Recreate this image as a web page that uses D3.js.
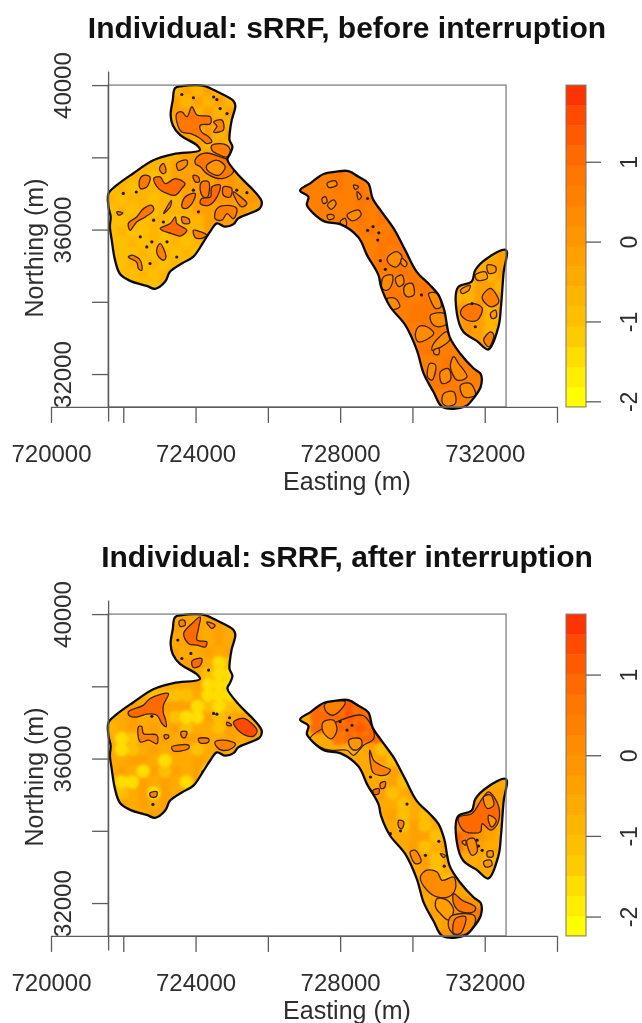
<!DOCTYPE html>
<html>
<head>
<meta charset="utf-8">
<script src="https://cdn.jsdelivr.net/npm/d3@7"></script>
<style>
html,body{margin:0;padding:0;background:#fff}
svg{display:block;filter:blur(0.55px)}
text{font-family:"Liberation Sans",Arial,sans-serif;fill:#2e2e2e}
</style>
</head>
<body>
<script>
// All map coordinates are kilometres (easting, northing).
const titles = ["Individual: sRRF, before interruption", "Individual: sRRF, after interruption"];
const xTicks = [720, 722, 724, 726, 728, 730, 732, 734];
const xTickLabels = ["720000", "", "724000", "", "728000", "", "732000", ""];
const yTicks = [40, 38, 36, 34, 32];
const yTickLabels = ["40000", "", "36000", "", "32000"];
const legendTicks = [-2, -1, 0, 1];
const legendDomains = [[-2.07, 1.96], [-2.24, 1.75]];
const palette = ["#ffff00","#ffee00","#ffdd00","#fccb00","#fdbf00","#ffb400","#ffaa00","#ffa000","#ff9500","#ff8c00","#ff8000","#ff7700","#ff6a00","#ff5a00","#ff4a00","#ff3300"];
// surface level codes used by the field rows below
const levelValues = [-2.0, -1.6, -1.2, -0.9, -0.6, -0.3, 0.0, 0.55, 0.9, 1.2];

const westOutline = [[723.43,39.91],[723.62,39.97],[724.03,40.00],[724.26,39.97],[724.59,39.82],[725.05,39.56],[725.10,39.42],[725.00,39.03],[724.95,38.71],[724.94,38.48],[725.02,38.29],[724.95,38.09],[724.88,37.94],[725.23,37.46],[725.60,37.09],[725.83,36.77],[725.78,36.59],[725.51,36.45],[725.18,36.31],[725.05,36.15],[724.82,36.08],[724.59,36.17],[724.40,35.94],[724.22,35.66],[723.94,35.25],[723.62,35.06],[723.29,34.83],[723.16,34.56],[722.88,34.36],[722.65,34.44],[722.19,34.58],[721.91,34.77],[721.77,35.16],[721.68,35.71],[721.63,36.08],[721.65,36.36],[721.59,36.63],[721.59,37.00],[721.82,37.23],[722.28,37.56],[722.83,37.92],[723.39,38.09],[724.12,38.20],[724.03,38.34],[723.57,38.62],[723.37,38.89],[723.31,39.17],[723.37,39.59]];
const centralOutline = [[726.89,37.08],[727.17,37.28],[727.54,37.54],[727.86,37.60],[728.23,37.62],[728.51,37.46],[728.78,37.28],[728.90,36.86],[729.15,36.49],[729.48,36.03],[729.80,35.43],[730.12,34.83],[730.49,34.46],[730.72,34.19],[730.88,33.77],[731.03,33.03],[731.32,32.57],[731.69,32.16],[731.89,32.00],[731.89,31.65],[731.69,31.33],[731.46,31.10],[730.84,31.08],[730.58,31.51],[730.31,32.02],[730.12,32.67],[729.80,33.36],[729.38,33.87],[729.13,34.42],[729.06,34.74],[728.74,35.30],[728.51,35.78],[728.00,36.15],[727.58,36.22],[727.26,36.45],[727.08,36.68],[727.12,36.91]];
const eastOutline = [[732.59,35.43],[732.52,34.79],[732.45,33.87],[732.38,33.31],[732.10,32.68],[731.78,32.92],[731.41,33.17],[731.23,33.68],[731.26,34.40],[731.64,34.56],[731.74,34.88],[732.06,35.20]];
const outlines = [westOutline, centralOutline, eastOutline];

// Estimated surface, 300 m cells: one row per 300 m of northing from 40 km, each row a list of [first column, level codes]
const fieldBefore = [
[[6,"454544"]],
[[6,"545454"]],
[[6,"554545"]],
[[6,"456554"]],
[[6,"554645"]],
[[6,"465454"]],
[[7,"55655"]],
[[4,"445556565"]],
[[2,"4434555566565"],[18,"77787777"]],
[[0,"343444455566555"],[19,"7787877"]],
[[0,"434434455566565"],[19,"7777887"]],
[[0,"343434445555656"],[21,"778787"]],
[[0,"334344344555555"],[22,"787878"]],
[[0,"343343444555554"],[24,"87878"]],
[[0,"334343434544"],[24,"78887"]],
[[1,"33434343444"],[25,"87878"],[35,"45"]],
[[1,"34343434"],[25,"888788"],[34,"455"]],
[[1,"3343434"],[26,"78878"],[34,"545"]],
[[3,"334"],[26,"878887"],[33,"4554"]],
[[26,"887878"],[32,"44545"]],
[[27,"78887"],[32,"55645"]],
[[28,"8878"],[32,"56544"]],
[[28,"7887"],[32,"56545"]],
[[29,"877"],[33,"554"]],
[[29,"8877"],[33,"554"]],
[[29,"77877"],[34,"55"]],
[[30,"888788"]],
[[30,"887777"]],
[[31,"78777"]],
[[31,"7777"]]
];
const fieldAfter = [
[[6,"454555"]],
[[6,"545454"]],
[[6,"455454"]],
[[6,"544545"]],
[[6,"455412"]],
[[6,"544211"]],
[[7,"45111"]],
[[4,"222241112"]],
[[2,"54455512122"],[18,"88899888"]],
[[0,"44544421152454"],[19,"8889888"]],
[[0,"345454524425545"],[19,"8988987"]],
[[0,"412545455445455"],[21,"788887"]],
[[0,"412454542454454"],[22,"445243"]],
[[0,"445541445455"],[24,"45245"]],
[[0,"454152545125"],[24,"42545"]],
[[1,"11545415"],[25,"45245"],[35,"44"]],
[[1,"2451545"],[25,"524525"],[34,"455"]],
[[1,"54545"],[26,"42452"],[34,"675"]],
[[3,"455"],[26,"52425"],[33,"6765"]],
[[26,"425245"],[32,"67664"]],
[[27,"45524"],[32,"87654"]],
[[28,"5245"],[32,"86544"]],
[[28,"4525"],[32,"44434"]],
[[29,"524"],[33,"444"]],
[[29,"4525"],[33,"434"]],
[[29,"52454"],[34,"44"]],
[[30,"556665"]],
[[30,"556676"]],
[[31,"57786"]],
[[31,"6777"]]
];

// Contour rings: [value, ring]
const contoursBefore = [
[0.9,[[723.48,39.21],[723.62,39.26],[723.76,39.12],[723.90,39.40],[724.04,39.17],[724.41,39.12],[724.41,38.93],[724.13,38.89],[724.17,38.70],[724.36,38.57],[724.45,38.43],[724.31,38.38],[724.13,38.52],[723.85,38.66],[723.62,38.70],[723.48,38.98]]],
[0.6,[[724.50,38.98],[724.73,39.03],[724.77,38.75],[724.50,38.70],[724.59,38.86]]],
[0.5,[[724.45,38.33],[724.68,38.38],[724.87,38.33],[724.96,38.20],[724.87,38.01],[724.59,38.10],[724.45,38.20]]],
[0.9,[[724.04,38.01],[724.31,38.12],[724.68,38.01],[724.91,37.92],[725.05,37.60],[724.73,37.41],[724.31,37.55],[724.13,37.74],[723.99,37.83]]],
[0.1,[[724.31,37.78],[724.59,37.92],[724.82,37.74],[724.64,37.50],[724.33,37.64]]],
[0.9,[[722.56,37.50],[722.74,37.46],[722.65,37.18],[722.47,37.14],[722.45,37.37]]],
[1.0,[[722.84,37.41],[723.02,37.46],[723.16,37.27],[723.44,37.41],[723.71,37.27],[723.62,37.14],[723.44,36.95],[723.21,37.00],[722.97,37.14]]],
[0.8,[[723.93,37.50],[724.08,37.46],[724.10,37.32],[723.99,37.32]]],
[0.8,[[724.17,37.32],[724.36,37.32],[724.33,36.90],[724.22,36.90],[724.13,37.09]]],
[1.0,[[724.45,37.18],[724.68,37.23],[724.59,36.90],[724.36,36.67],[724.13,36.72],[724.17,36.86],[724.41,36.90]]],
[0.9,[[724.77,37.18],[725.00,37.14],[724.96,36.90],[724.77,36.95]]],
[0.6,[[725.05,37.04],[725.19,36.95],[725.42,36.72],[725.28,36.63],[725.10,36.86]]],
[0.8,[[723.71,36.90],[723.99,37.00],[723.90,36.72],[723.71,36.58],[723.62,36.63]]],
[0.6,[[724.59,36.58],[724.87,36.67],[725.14,36.58],[725.05,36.30],[724.87,36.44],[724.73,36.26],[724.54,36.30]]],
[0.9,[[722.56,36.58],[722.79,36.67],[722.84,36.54],[722.61,36.35],[722.37,36.21],[722.19,35.98],[722.14,36.17],[722.37,36.35]]],
[1.0,[[723.02,36.03],[723.30,36.17],[723.44,36.35],[723.48,36.17],[723.76,35.98],[723.57,35.82],[723.34,35.89],[723.11,35.96]]],
[0.6,[[723.62,36.35],[723.81,36.30],[723.83,36.18],[723.65,36.18]]],
[0.6,[[723.16,36.54],[723.33,36.81],[723.30,36.63],[723.11,36.44]]],
[0.6,[[723.94,35.98],[724.13,35.94],[724.31,35.84],[724.13,35.75],[723.99,35.78]]],
[0.6,[[722.93,35.47],[723.02,35.61],[723.18,35.24],[723.11,35.15],[722.95,35.29]]],
[0.6,[[722.14,35.24],[722.24,35.29],[722.47,35.15],[722.51,34.87],[722.42,34.92],[722.37,35.10]]],
[0.6,[[723.00,37.69],[723.11,37.83],[723.18,37.60],[723.09,37.55]]],
[0.2,[[723.48,37.83],[723.76,37.92],[723.76,37.78],[723.53,37.64]]],
[0.6,[[721.82,36.49],[721.99,36.46],[721.87,36.40]]],
[0.35,[[727.64,37.28],[727.87,37.35],[727.91,37.23],[727.68,37.17]]],
[0.35,[[727.50,36.86],[727.59,36.91],[727.64,36.77],[727.54,36.72]]],
[0.35,[[727.65,36.68],[727.82,36.82],[727.89,36.72],[727.75,36.56]]],
[0.35,[[727.64,36.40],[727.82,36.40],[727.82,36.31],[727.68,36.28]]],
[0.35,[[728.00,36.22],[728.14,36.31],[728.17,36.12],[728.05,36.12]]],
[0.35,[[728.19,36.40],[728.51,36.54],[728.58,36.40],[728.33,36.24]]],
[0.35,[[728.47,37.05],[728.59,36.91],[728.51,36.83]]],
[0.35,[[728.37,37.23],[728.51,37.19],[728.42,37.11]]],
[0.35,[[729.34,35.27],[729.57,35.39],[729.71,35.25],[729.57,34.97],[729.39,35.02],[729.30,35.15]]],
[0.35,[[729.71,35.20],[729.85,35.06],[729.80,34.97],[729.68,35.06]]],
[0.35,[[729.20,34.69],[729.44,34.74],[729.44,34.51],[729.30,34.32],[729.16,34.37]]],
[0.35,[[729.53,34.65],[729.71,34.74],[729.76,34.51],[729.62,34.42]]],
[0.35,[[729.80,34.46],[729.99,34.51],[730.04,34.19],[729.85,34.14],[729.76,34.28]]],
[0.35,[[729.30,34.09],[729.53,34.09],[729.65,33.86],[729.44,33.79],[729.34,33.91]]],
[0.35,[[730.45,34.23],[730.68,34.23],[730.79,33.86],[730.64,33.82],[730.50,34.05]]],
[0.35,[[730.50,33.63],[730.87,33.68],[730.96,33.40],[730.68,33.31],[730.54,33.40]]],
[0.35,[[730.17,33.31],[730.40,33.31],[730.59,33.12],[730.17,32.89],[730.08,33.08]]],
[0.35,[[730.59,32.85],[730.96,33.17],[731.03,32.94],[730.54,32.66]]],
[0.35,[[730.59,32.66],[730.73,32.71],[730.73,32.55],[730.61,32.55]]],
[0.35,[[730.48,32.29],[730.64,32.25],[730.54,31.83],[730.42,31.92]]],
[0.35,[[730.77,32.06],[731.00,32.15],[731.05,31.83],[730.82,31.74]]],
[0.35,[[731.14,32.48],[731.28,32.29],[731.51,31.92],[731.24,31.83],[731.05,32.20]]],
[0.35,[[731.33,31.69],[731.60,31.74],[731.74,31.42],[731.42,31.37]]],
[0.35,[[730.87,31.46],[731.14,31.51],[731.19,31.19],[730.96,31.11],[730.82,31.23]]],
[0.1,[[732.07,35.02],[732.30,34.97],[732.30,34.83],[732.11,34.79]]],
[-0.2,[[731.74,34.74],[732.02,34.83],[732.07,34.65],[731.79,34.60]]],
[0.1,[[731.33,34.32],[731.60,34.46],[731.56,34.32],[731.37,34.23]]],
[0.8,[[731.42,33.86],[731.70,33.95],[731.93,33.82],[731.79,33.49],[731.51,33.49],[731.33,33.68]]],
[0.6,[[731.93,34.14],[732.16,34.37],[732.39,34.00],[732.20,33.86],[732.07,33.91]]],
[0.1,[[732.16,33.68],[732.30,33.77],[732.32,33.58],[732.20,33.54]]],
[0.6,[[731.97,32.94],[732.16,33.17],[732.25,33.08],[732.11,32.75]]]
];
const contoursAfter = [
[0.9,[[723.90,39.74],[724.13,39.92],[724.08,39.60],[724.04,39.28],[724.31,39.23],[724.27,39.09],[724.04,39.14],[723.81,39.18],[723.67,39.46]]],
[0.5,[[723.55,39.81],[723.69,39.83],[723.71,39.69],[723.57,39.66]]],
[0.8,[[723.90,38.70],[724.17,38.77],[724.13,38.58],[723.94,38.52]]],
[0.3,[[724.31,39.78],[724.54,39.69],[724.45,39.60]]],
[0.8,[[722.14,37.29],[722.56,37.48],[722.74,37.66],[723.25,37.80],[723.11,37.48],[723.11,37.25],[723.16,37.11],[723.19,36.88],[723.07,36.97],[722.93,37.20],[722.65,37.23],[722.37,37.15],[722.19,37.17]]],
[0.4,[[722.42,36.88],[722.51,36.89],[722.56,36.69],[722.93,36.65],[722.93,36.41],[722.70,36.51],[722.47,36.46]]],
[0.3,[[723.13,36.65],[723.25,36.65],[723.25,36.58],[723.16,36.55]]],
[0.4,[[723.60,36.74],[723.76,36.74],[723.71,36.58],[723.62,36.60]]],
[0.4,[[723.34,36.32],[723.81,36.37],[723.81,36.28],[723.39,36.21]]],
[0.4,[[724.08,36.55],[724.36,36.55],[724.36,36.46],[724.13,36.43]]],
[0.4,[[724.54,36.46],[724.77,36.51],[725.10,36.41],[725.00,36.28],[724.73,36.23],[724.59,36.32]]],
[0.4,[[724.87,37.01],[725.00,36.92],[724.87,36.92]]],
[1.3,[[725.05,37.01],[725.33,37.11],[725.70,36.78],[725.61,36.62],[725.37,36.65],[725.10,36.88]]],
[0.3,[[722.74,35.05],[722.93,35.08],[722.91,34.94],[722.76,34.94]]],
[null,[[728.60,37.20],[728.88,36.88],[728.93,36.55],[728.65,36.37],[728.37,36.09],[728.19,36.23],[727.73,36.23],[727.45,36.32],[727.17,36.55]]],
[0.3,[[727.59,37.52],[728.14,37.57],[727.96,37.29],[727.77,37.20],[727.59,37.34]]],
[0.2,[[727.54,37.02],[727.82,37.06],[727.91,36.79],[727.77,36.55],[727.59,36.65],[727.50,36.83]]],
[0.0,[[728.24,36.51],[728.56,36.55],[728.60,36.37],[728.42,36.23],[728.28,36.32]]],
[0.3,[[728.82,36.23],[728.93,35.95],[729.11,35.82],[729.39,35.68],[729.25,35.54],[728.93,35.59],[728.84,35.86]]],
[0.9,[[728.91,35.12],[729.07,35.17],[729.07,35.03],[728.93,35.01]]],
[0.3,[[729.11,35.31],[729.25,35.36],[729.23,35.20],[729.13,35.17]]],
[0.3,[[729.62,34.29],[729.76,34.25],[729.71,34.06],[729.62,34.11]]],
[0.2,[[729.94,33.42],[730.08,33.46],[730.24,33.14],[730.08,33.09]]],
[0.2,[[730.77,33.37],[730.91,33.32],[730.87,33.26]]],
[0.2,[[730.22,32.72],[730.40,32.91],[730.68,32.86],[730.82,32.63],[731.14,32.72],[731.19,32.40],[731.00,32.17],[730.68,32.17],[730.40,32.36]]],
[-0.3,[[730.68,32.12],[730.96,32.08],[731.14,31.80],[731.00,31.53],[730.77,31.71],[730.64,31.89]]],
[0.7,[[731.14,32.26],[731.37,32.08],[731.74,31.89],[731.70,31.76],[731.33,31.76],[731.14,31.99]]],
[0.2,[[731.05,31.62],[731.42,31.71],[731.70,31.66],[731.74,31.48],[731.51,31.16],[731.19,31.11],[731.00,31.34]]],
[0.7,[[731.19,31.57],[731.47,31.62],[731.33,31.16],[731.14,31.16]]],
[0.9,[[731.28,34.37],[731.65,34.48],[731.93,34.89],[732.11,35.08],[732.39,34.66],[732.36,34.20],[732.16,34.02],[731.93,34.20],[731.88,33.97],[731.47,33.97],[731.33,34.11]]],
[0.0,[[732.11,34.43],[732.32,34.29],[732.20,34.11],[732.11,34.25]]],
[0.0,[[731.97,34.94],[732.16,34.99],[732.25,34.71],[732.07,34.62]]],
[0.2,[[731.51,33.74],[731.70,33.79],[731.79,33.42],[731.65,33.32]]],
[0.0,[[732.07,33.42],[732.22,33.44],[732.22,33.28],[732.08,33.28]]],
[0.0,[[731.97,33.14],[732.16,33.19],[732.20,33.05],[732.02,33.00]]],
[0.0,[[731.37,33.69],[731.47,33.74],[731.47,33.60]]]
];
// Very small closed contours, shown as dots
const dotsBefore = [[722.00,37.00],[722.36,37.04],[723.62,39.74],[723.94,39.65],[724.50,39.67],[724.59,39.60],[723.11,36.21],[722.84,36.26],[722.47,35.80],[722.65,35.52],[722.79,35.66],[723.21,35.66],[723.48,35.24],[722.74,35.06],[724.08,36.49],[725.14,37.09],[725.42,37.02],[724.87,39.21],[724.68,39.35],[723.94,37.09],[728.76,35.98],[728.91,36.08],[729.07,35.91],[729.04,35.71],[728.76,36.86],[729.11,35.14],[729.25,34.90],[730.25,34.19],[731.74,33.31],[731.65,33.95]];
const dotsAfter = [[722.82,34.73],[723.51,39.28],[723.62,38.77],[723.87,38.91],[724.36,38.45],[724.50,37.25],[724.59,37.23],[724.94,37.13],[722.79,37.17],[724.20,35.63],[728.00,37.02],[728.33,36.92],[728.19,36.79],[728.84,35.49],[729.67,34.00],[729.85,34.74],[729.39,33.92],[729.07,34.62],[730.73,33.71],[730.36,33.32],[730.88,33.02],[731.79,33.74],[731.83,33.58],[731.93,33.46]];
const baseValues = [[-0.6, 0.55, -0.3], [-0.6, -0.5, -0.6]];

const fields = [fieldBefore, fieldAfter];
const contours = [contoursBefore, contoursAfter];
const dots = [dotsBefore, dotsAfter];

const width = 642, height = 1023, panelStep = 529;
const svg = d3.select("body").append("svg").attr("width", width).attr("height", height);
const defs = svg.append("defs");
defs.append("filter").attr("id","soft").attr("x","-5%").attr("y","-5%").attr("width","110%").attr("height","110%")
  .append("feGaussianBlur").attr("stdDeviation",1.4);

const x = d3.scaleLinear().domain([720, 734]).range([51, 557]);
const y = d3.scaleLinear().domain([40.39, 30.70]).range([71, 421]);
const FIELD_E0 = 721.5, FIELD_N0 = 40, CELL = 0.3;
const smooth = d3.line().x(d => x(d[0])).y(d => y(d[1])).curve(d3.curveCatmullRomClosed.alpha(0.5));
const axisColor = "#5c5c5c";
const FONT = '"Liberation Sans",Arial,sans-serif';

titles.forEach((title, p) => {
  const g = svg.append("g").attr("transform", `translate(0,${p * panelStep})`);
  const color = d3.scaleQuantize().domain(legendDomains[p]).range(palette);

  g.append("text").attr("x", 347).attr("y", 38).attr("text-anchor", "middle")
    .attr("font-weight", "bold").attr("font-size", 30).style("fill", "#111").text(title);

  const clipId = "clip" + p;
  defs.append("clipPath").attr("id", clipId).selectAll("path").data(outlines).join("path")
    .attr("d", d => smooth(d));
  const map = g.append("g").attr("clip-path", `url(#${clipId})`);

  map.selectAll("path.base").data(outlines).join("path").attr("class", "base")
    .attr("d", d => smooth(d)).attr("fill", (d, i) => color(baseValues[p][i]));

  const cells = fields[p].flatMap((row, r) => row.flatMap(([c0, codes]) =>
    Array.from(codes, (ch, i) => ({ c: c0 + i, r, v: levelValues[+ch] }))));
  // blotches: one soft round patch per surface cell, lightest drawn last so the pale spots stay visible
  cells.sort((a, b) => b.v - a.v);
  map.append("g").attr("filter", "url(#soft)").selectAll("circle").data(cells).join("circle")
    .attr("cx", d => x(FIELD_E0 + (d.c + 0.5) * CELL))
    .attr("cy", d => y(FIELD_N0 - (d.r + 0.5) * CELL))
    .attr("r", (x(CELL) - x(0)) * 0.62)
    .attr("fill", d => color(d.v));

  map.selectAll("path.contour").data(contours[p]).join("path").attr("class", "contour")
    .attr("d", d => smooth(d[1]))
    .attr("fill", d => d[0] === null ? "none" : color(d[0]))
    .attr("stroke", "#3d2208").attr("stroke-width", 1.3).attr("stroke-linejoin", "round");

  map.selectAll("circle.dot").data(dots[p]).join("circle").attr("class", "dot")
    .attr("cx", d => x(d[0])).attr("cy", d => y(d[1])).attr("r", 1.6)
    .attr("fill", "#2a1606");

  g.selectAll("path.outline").data(outlines).join("path").attr("class", "outline")
    .attr("d", d => smooth(d)).attr("fill", "none")
    .attr("stroke", "#0a0a0a").attr("stroke-width", 2.3).attr("stroke-linejoin", "round");

  // plot box
  g.append("rect").attr("x", x(721.58)).attr("y", y(40)).attr("width", x(732.59) - x(721.58)).attr("height", y(31.09) - y(40))
    .attr("fill", "none").attr("stroke", "#777").attr("stroke-width", 1.2);

  // axes
  const xAxis = d3.axisBottom(x).tickValues(xTicks).tickSize(16).tickSizeOuter(0)
    .tickFormat((d, i) => xTickLabels[i]);
  const gx = g.append("g").attr("transform", `translate(0,${y(31.09)})`).call(xAxis);
  gx.selectAll("text").attr("font-size", 24).attr("y", 0).attr("dy", 0)
    .attr("transform", "translate(0,55)").style("font-family", FONT);

  const yAxis = d3.axisLeft(y).tickValues(yTicks).tickSize(16).tickSizeOuter(0)
    .tickFormat((d, i) => yTickLabels[i]);
  const gy = g.append("g").attr("transform", `translate(${x(721.58)},0)`).call(yAxis);
  gy.selectAll("text").attr("font-size", 24).attr("x", 0).attr("y", 0).attr("dy", 0)
    .attr("text-anchor", "middle").attr("transform", "translate(-37,0) rotate(-90)")
    .style("font-family", FONT);

  [gx, gy].forEach(a => {
    a.selectAll("path.domain, line").attr("stroke", axisColor).attr("stroke-width", 1.3);
  });

  g.append("text").attr("x", 347).attr("y", 490).attr("text-anchor", "middle").attr("font-size", 25).text("Easting (m)");
  g.append("text").attr("transform", "translate(43,248) rotate(-90)").attr("text-anchor", "middle").attr("font-size", 25).text("Northing (m)");

  // colour key
  const legendTop = y(40), legendBottom = y(31.09);
  const ly = d3.scaleLinear().domain(legendDomains[p]).range([legendBottom, legendTop]);
  g.append("g").selectAll("rect").data(palette).join("rect")
    .attr("x", 566).attr("width", 20)
    .attr("y", c => ly(color.invertExtent(c)[1]))
    .attr("height", c => ly(color.invertExtent(c)[0]) - ly(color.invertExtent(c)[1]) + 0.4)
    .attr("fill", c => c);
  g.append("rect").attr("x", 566).attr("y", legendTop).attr("width", 20).attr("height", legendBottom - legendTop)
    .attr("fill", "none").attr("stroke", "#777").attr("stroke-width", 1);
  const la = d3.axisRight(ly).tickValues(legendTicks).tickSize(15).tickSizeOuter(0).tickFormat(d3.format("d"));
  const gl = g.append("g").attr("transform", "translate(586,0)").call(la);
  gl.select("path.domain").remove();
  gl.selectAll("line").attr("stroke", axisColor).attr("stroke-width", 1.3);
  gl.selectAll("text").attr("font-size", 23).attr("x", 0).attr("y", 0).attr("dy", 0)
    .attr("text-anchor", "middle").attr("transform", "translate(51,0) rotate(-90)")
    .style("font-family", FONT).text(d => String(d));
});
</script>
</body>
</html>
